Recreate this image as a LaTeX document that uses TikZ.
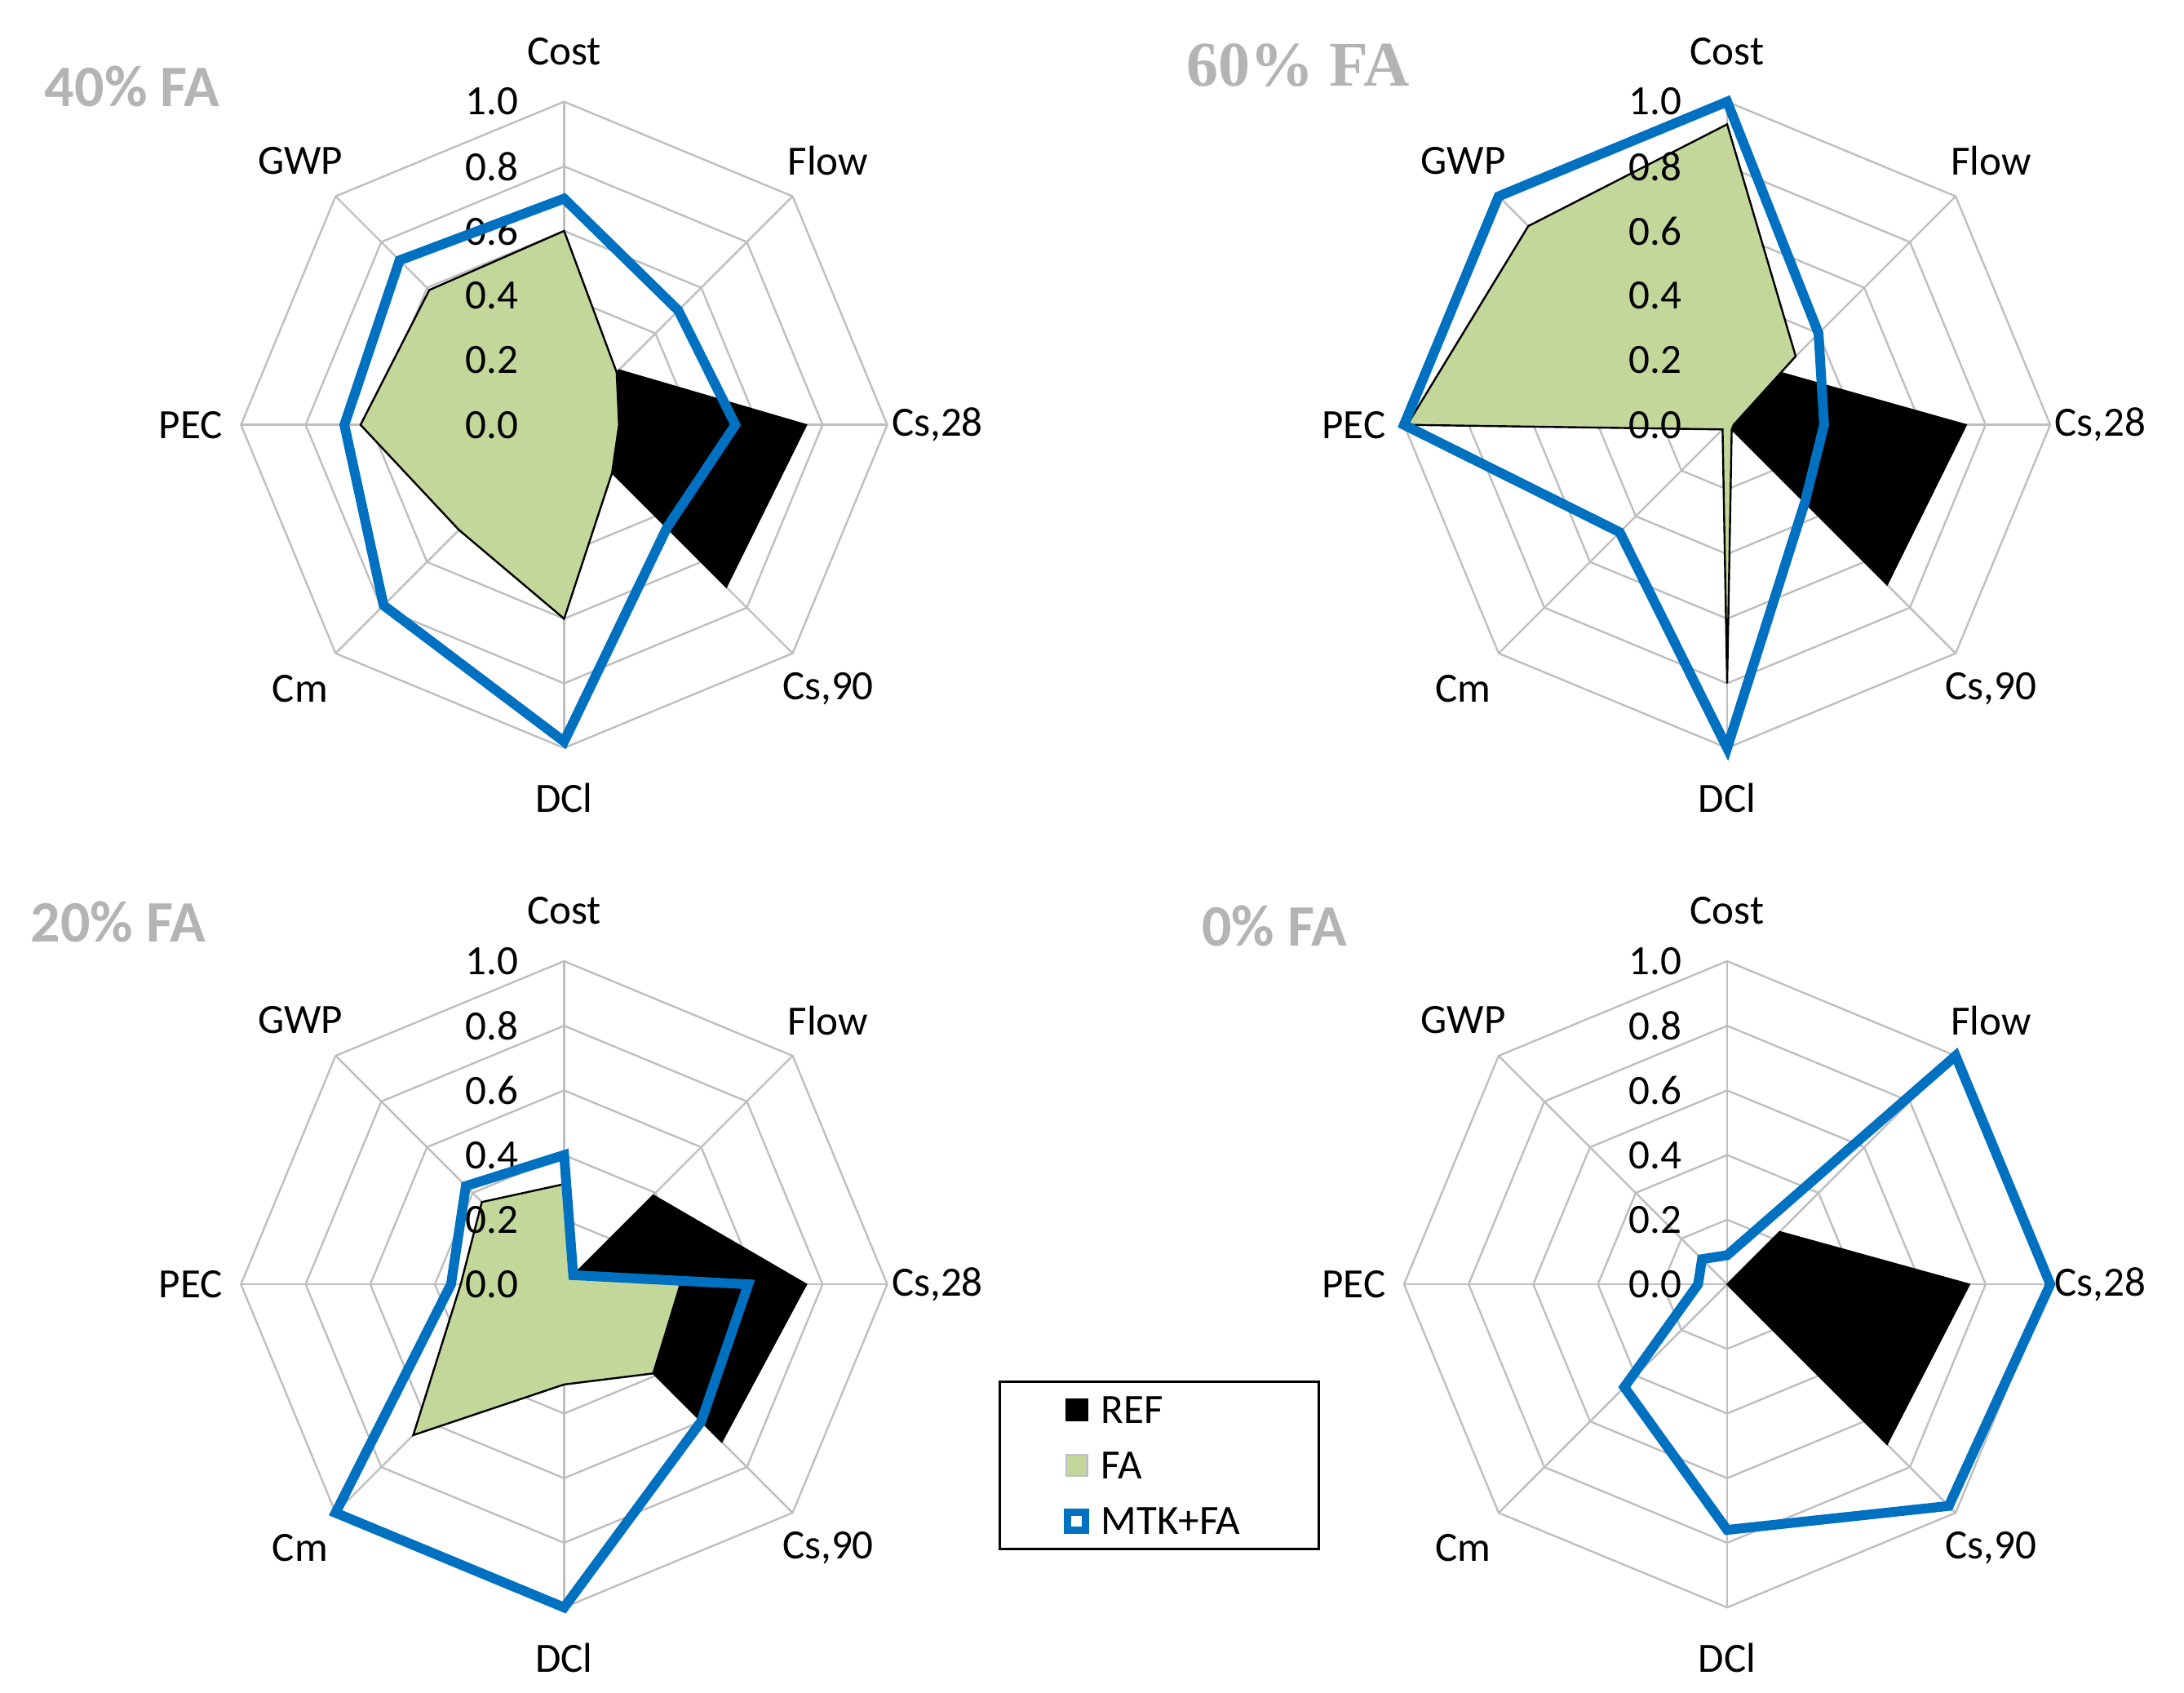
\documentclass[tikz,border=0pt]{standalone}
\usepackage{fontspec}
\setmainfont{Carlito}
\newfontfamily\serifb{Liberation Serif}
\definecolor{fagreen}{RGB}{195,215,155}
\definecolor{mtkblue}{RGB}{0,112,192}
\definecolor{gridg}{RGB}{191,191,191}
\definecolor{titleg}{RGB}{180,180,180}
\newcommand\rpoly[4]{%
 \draw[#1] \foreach \v [count=\i from 0] in {#4}{\ifnum\i=0 ([shift={(#2,#3)}]90:\v*232)\else --([shift={(#2,#3)}]90-45*\i:\v*232)\fi} -- cycle;}
\newcommand\rgrid[3]{%
 \foreach \r in {0.2,0.4,0.6,0.8,1.0}{\rpoly{gridline}{#1}{#2}{\r,\r,\r,\r,\r,\r,\r,\r}}
 \foreach \a in {0,...,7}{\draw[gridline] (#1,#2) -- ++(90-45*\a:232);}
 \foreach \t/\n in {Cost/0,Flow/1,{Cs,28}/2,{Cs,90}/3,DCl/4,Cm/5,PEC/6,GWP/7}{
   \node[axlab] (ax#3\n) at ([shift={(#1,#2)}]90-45*\n:268) {\t};}}
\newcommand\rticks[3]{%
 \foreach \r in {0.0,0.2,0.4,0.6,0.8,1.0}{\node[ticklab] (tk#3\r) at ([shift={(#1,#2)}]-32,\r*232) {\r};}}
\tikzset{x=0.01cm,y=0.01cm,
 gridline/.style={draw=gridg,line width=0.4pt},
 axlab/.style={font=\fontsize{8.5}{9}\selectfont,inner sep=0pt},
 ticklab/.style={font=\fontsize{8.5}{9}\selectfont,anchor=east,inner sep=0pt},
 ref/.style={fill=black,draw=black,line width=0.3pt},
 fa/.style={fill=fagreen,draw=black,line width=0.4pt},
 mtk/.style={draw=mtkblue,line width=2pt,line join=miter},
 ttl/.style={font=\fontsize{12}{13}\selectfont\bfseries,text=titleg,inner sep=0pt}}
\begin{document}
\begin{tikzpicture}
\useasboundingbox (0,0) rectangle (1568,1215);
% chart 1: 40% FA
\rgrid{405}{910}{a}
\rpoly{ref}{405}{910}{0,0.24,0.75,0.71,0,0,0,0}
\rpoly{fa}{405}{910}{0.6,0.23,0.17,0.21,0.6,0.46,0.63,0.59}
\rticks{405}{910}{a}
\rpoly{mtk}{405}{910}{0.7,0.5,0.53,0.45,0.98,0.79,0.68,0.72}
\node[ttl] (t1) at (95,1153) {40\% FA};
% chart 2: 60% FA
\rgrid{1240}{910}{b}
\rpoly{ref}{1240}{910}{0,0.23,0.74,0.7,0,0,0,0}
\rpoly{fa}{1240}{910}{0.93,0.3,0.02,0.02,0.8,0.02,0.99,0.87}
\rticks{1240}{910}{b}
\rpoly{mtk}{1240}{910}{1.0,0.4,0.3,0.34,1.0,0.47,1.0,1.0}
\node[ttl,font=\fontsize{13}{14}\selectfont\bfseries\serifb] (t2) at (932,1168) {60\% FA};
% chart 3: 20% FA
\rgrid{405}{293}{c}
\rpoly{ref}{405}{293}{0,0.39,0.75,0.69,0,0,0,0}
\rpoly{fa}{405}{293}{0.31,0.03,0.36,0.39,0.31,0.66,0.32,0.36}
\rticks{405}{293}{c}
\rpoly{mtk}{405}{293}{0.4,0.04,0.57,0.6,1.0,1.0,0.35,0.43}
\node[ttl] (t3) at (85,553) {20\% FA};
% chart 4: 0% FA
\rgrid{1240}{293}{d}
\rpoly{ref}{1240}{293}{0,0.23,0.75,0.7,0,0,0,0}
\rticks{1240}{293}{d}
\rpoly{mtk}{1240}{293}{0.09,1.0,1.0,0.97,0.76,0.45,0.09,0.11}
\node[ttl] (t4) at (915,550) {0\% FA};
% legend
\draw[line width=0.5pt] (718,103) rectangle (947,223);
\node[draw=black,fill=black,minimum size=0.15cm,inner sep=0pt] (l1) at (773,203) {};
\node[axlab,anchor=west] (l1t) at (790,203) {REF};
\node[draw=gridg,fill=fagreen,minimum size=0.15cm,inner sep=0pt] (l2) at (773,163) {};
\node[axlab,anchor=west] (l2t) at (790,163) {FA};
\node[draw=mtkblue,line width=1.5pt,minimum size=0.13cm,inner sep=0pt] (l3) at (773,123) {};
\node[axlab,anchor=west] (l3t) at (790,123) {MTK+FA};
\end{tikzpicture}
\end{document}
